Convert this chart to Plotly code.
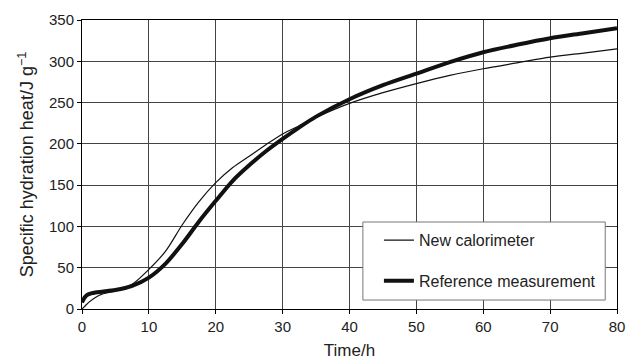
import plotly.graph_objects as go

time_h = [0, 0.5, 1, 2, 3, 5, 7.5, 10, 12.5, 15, 17.5, 20, 22.5, 25, 27.5, 30,
          32.5, 35, 40, 45, 50, 55, 60, 65, 70, 75, 80]
new_calorimeter = [0, 4, 8, 14, 18, 22, 30, 48, 70, 102, 130, 153, 171, 185, 199, 212,
                   222, 232, 249, 262, 273, 283, 291, 298, 305, 310, 315]
reference = [8, 15, 18, 20, 21, 23, 28, 38, 55, 79, 106, 131, 155, 174, 191, 206,
             220, 233, 254, 271, 285, 299, 311, 320, 328, 334, 340]

x_ticks = [0, 10, 20, 30, 40, 50, 60, 70, 80]
y_ticks = [0, 50, 100, 150, 200, 250, 300, 350]

font_family = "Liberation Sans, Arial, sans-serif"

fig = go.Figure()
fig.add_trace(go.Scatter(
    x=time_h, y=new_calorimeter, mode="lines", name="New calorimeter",
    line=dict(color="#111111", width=1.2, shape="spline", smoothing=0.8),
    legendgroup="a"))
fig.add_trace(go.Scatter(
    x=time_h, y=reference, mode="lines", name="Reference measurement",
    line=dict(color="#111111", width=4, shape="spline", smoothing=0.8),
    legendgroup="b"))

axis_common = dict(
    showline=True, linecolor="black", linewidth=1, mirror=True,
    showgrid=True, gridcolor="#444444", gridwidth=1,
    ticks="outside", ticklen=4, tickcolor="black",
    tickfont=dict(size=15, color="#222222", family=font_family),
    zeroline=False, automargin=False,
)

# legend frame (paper coordinates of the plot area)
fig.add_shape(type="rect", xref="paper", yref="paper",
              x0=0.525, x1=0.978, y0=0.031, y1=0.301,
              line=dict(color="#777777", width=1), fillcolor="white", layer="above")

fig.update_layout(
    width=627, height=360,
    margin=dict(l=82, r=10, t=20, b=51),
    paper_bgcolor="white", plot_bgcolor="white",
    font=dict(family=font_family, color="#222222"),
    xaxis=dict(range=[0, 80], tickvals=x_ticks,
               title=dict(text="Time/h", font=dict(size=17), standoff=11),
               **axis_common),
    yaxis=dict(range=[0, 350], tickvals=y_ticks,
               title=dict(text="Specific hydration heat/J g<sup>−1</sup>", font=dict(size=18), standoff=10),
               **axis_common),
    legend=dict(
        x=0.555, y=0.297, xanchor="left", yanchor="top",
        bgcolor="rgba(0,0,0,0)", borderwidth=0,
        font=dict(size=16, color="#222222", family=font_family),
        tracegroupgap=17, traceorder="grouped",
        itemwidth=30,
    ),
    showlegend=True,
)

fig.write_html("out.html")
